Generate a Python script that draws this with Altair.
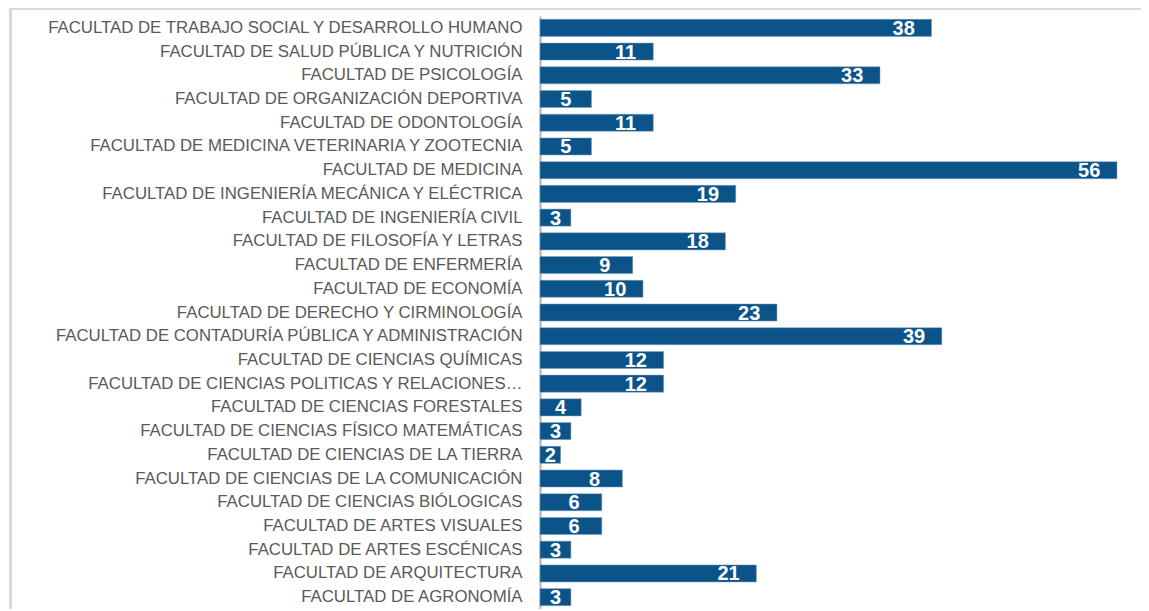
import altair as alt
import pandas as pd

facultades = [
    "FACULTAD DE TRABAJO SOCIAL Y DESARROLLO HUMANO",
    "FACULTAD DE SALUD PÚBLICA Y NUTRICIÓN",
    "FACULTAD DE PSICOLOGÍA",
    "FACULTAD DE ORGANIZACIÓN DEPORTIVA",
    "FACULTAD DE ODONTOLOGÍA ",
    "FACULTAD DE MEDICINA VETERINARIA Y ZOOTECNIA",
    "FACULTAD DE MEDICINA",
    "FACULTAD DE INGENIERÍA MECÁNICA Y ELÉCTRICA",
    "FACULTAD DE INGENIERÍA CIVIL",
    "FACULTAD DE FILOSOFÍA Y LETRAS",
    "FACULTAD DE ENFERMERÍA",
    "FACULTAD DE ECONOMÍA",
    "FACULTAD DE DERECHO Y CIRMINOLOGÍA",
    "FACULTAD DE CONTADURÍA PÚBLICA Y ADMINISTRACIÓN",
    "FACULTAD DE CIENCIAS QUÍMICAS",
    "FACULTAD DE CIENCIAS POLITICAS Y RELACIONES…",
    "FACULTAD DE CIENCIAS FORESTALES",
    "FACULTAD DE CIENCIAS FÍSICO MATEMÁTICAS",
    "FACULTAD DE CIENCIAS DE LA TIERRA",
    "FACULTAD DE CIENCIAS DE LA COMUNICACIÓN ",
    "FACULTAD DE CIENCIAS BIÓLOGICAS",
    "FACULTAD DE ARTES VISUALES",
    "FACULTAD DE ARTES ESCÉNICAS",
    "FACULTAD DE ARQUITECTURA",
    "FACULTAD DE AGRONOMÍA",
]
valores = [38, 11, 33, 5, 11, 5, 56, 19, 3, 18, 9, 10, 23, 39, 12, 12, 4, 3, 2, 8, 6, 6, 3, 21, 3]

df = pd.DataFrame({"facultad": facultades, "valor": valores})

W, H = 577, 593

y_enc = alt.Y("facultad:N", sort=facultades,
              scale=alt.Scale(paddingInner=0.28, paddingOuter=0.14),
              axis=alt.Axis(title=None, ticks=False, labelPadding=18,
                            labelFont="Liberation Sans", labelFontSize=16.8,
                            labelColor="#595959", labelLimit=600,
                            domainColor="#BFBFBF", domainWidth=2.5))
x_scale = alt.Scale(domain=[0, 56], nice=False)

base = alt.Chart(df)

bars = base.mark_bar(color="#0B5489", stroke="#7FA3C4", strokeWidth=0.5).encode(
    x=alt.X("valor:Q", scale=x_scale, axis=None),
    y=y_enc,
)

labels = base.transform_calculate(
    pos="max(datum.valor - 2.7, datum.valor / 2)"
).mark_text(color="white", font="Liberation Sans", fontWeight="bold",
            fontSize=20, align="center", baseline="middle", dy=1).encode(
    x=alt.X("pos:Q", scale=x_scale),
    y=alt.Y("facultad:N", sort=facultades),
    text="valor:Q",
)

frame_top = base.mark_rect(color="#D9D9D9", clip=False).encode(
    x=alt.value(-531), x2=alt.value(601), y=alt.value(-8), y2=alt.value(-6)
)
frame_left = base.mark_rect(color="#D9D9D9", clip=False).encode(
    x=alt.value(-531), x2=alt.value(-528.5), y=alt.value(-8), y2=alt.value(H)
)

chart = alt.layer(frame_top, frame_left, bars, labels).properties(
    width=W, height=H,
    padding={"left": 532, "top": 8, "right": 24, "bottom": 0},
    autosize=alt.AutoSizeParams(type="none"),
).configure_view(stroke=None)

chart.save("out.html", embed_options={"renderer": "svg", "actions": False})
